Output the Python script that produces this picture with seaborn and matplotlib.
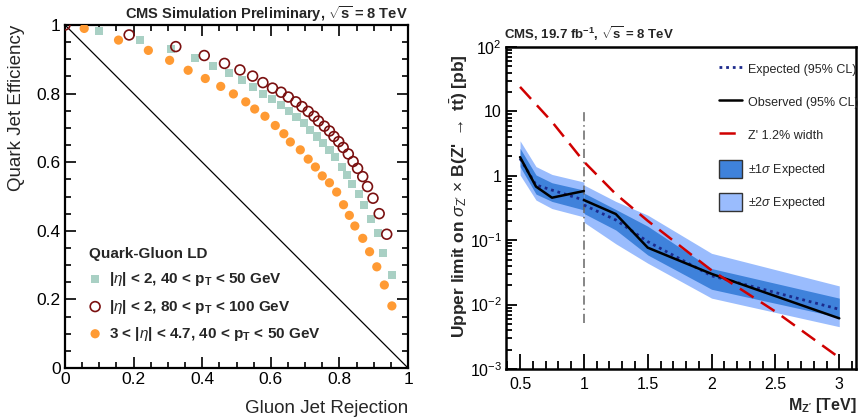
import numpy as np
import pandas as pd
import matplotlib
matplotlib.use("Agg")
import matplotlib.pyplot as plt
import seaborn as sns
from matplotlib.ticker import MultipleLocator, FixedLocator, FixedFormatter, LogLocator, NullFormatter
from matplotlib.patches import Patch
from matplotlib.lines import Line2D

# ---------------- Quark-gluon likelihood discriminant: ROC points ----------------
rej_central_low = [0.10, 0.219, 0.31, 0.379, 0.432, 0.477, 0.516, 0.547, 0.578, 0.604,
                   0.629, 0.654, 0.675, 0.696, 0.715, 0.734, 0.752, 0.771, 0.787, 0.807,
                   0.821, 0.837, 0.857, 0.873, 0.891, 0.912, 0.928, 0.953]
eff_central_low = [0.983, 0.956, 0.929, 0.903, 0.881, 0.861, 0.84, 0.82, 0.80, 0.783,
                   0.767, 0.748, 0.731, 0.713, 0.695, 0.675, 0.656, 0.635, 0.614, 0.587,
                   0.563, 0.537, 0.508, 0.474, 0.435, 0.393, 0.336, 0.27]

rej_central_high = [0.0, 0.187, 0.323, 0.406, 0.465, 0.510, 0.547, 0.577, 0.605, 0.630,
                    0.651, 0.673, 0.691, 0.709, 0.726, 0.739, 0.756, 0.771, 0.784, 0.798,
                    0.811, 0.826, 0.840, 0.853, 0.868, 0.882, 0.898, 0.916, 0.938]
eff_central_high = [1.0, 0.971, 0.937, 0.911, 0.888, 0.869, 0.851, 0.832, 0.816, 0.804,
                    0.79, 0.776, 0.762, 0.748, 0.734, 0.72, 0.705, 0.691, 0.675, 0.66,
                    0.643, 0.624, 0.602, 0.582, 0.558, 0.529, 0.495, 0.45, 0.39]

rej_forward = [0.056, 0.156, 0.243, 0.305, 0.359, 0.409, 0.454, 0.491, 0.527, 0.553,
               0.583, 0.613, 0.638, 0.657, 0.686, 0.709, 0.730, 0.750, 0.771, 0.792,
               0.812, 0.829, 0.845, 0.868, 0.888, 0.909, 0.931, 0.953]
eff_forward = [0.99, 0.956, 0.926, 0.897, 0.868, 0.844, 0.821, 0.799, 0.776, 0.755,
               0.734, 0.707, 0.683, 0.659, 0.636, 0.609, 0.586, 0.56, 0.54, 0.513,
               0.476, 0.445, 0.414, 0.378, 0.339, 0.295, 0.242, 0.181]

roc_labels = [r"|$\eta$| < 2, 40 < p$_{\mathbf{T}}$ < 50 GeV",
              r"|$\eta$| < 2, 80 < p$_{\mathbf{T}}$ < 100 GeV",
              r"3 < |$\eta$| < 4.7, 40 < p$_{\mathbf{T}}$ < 50 GeV"]

# ---------------- Z' -> ttbar cross-section limits ----------------
mass_low = [0.5, 0.625, 0.75, 1.0]
obs_low = [1.95, 0.68, 0.457, 0.58]
exp_low = [1.85, 0.72, 0.60, 0.42]
exp1_lo_low = [1.39, 0.52, 0.40, 0.295]
exp1_hi_low = [2.67, 1.03, 0.78, 0.60]
exp2_lo_low = [1.03, 0.42, 0.31, 0.23]
exp2_hi_low = [3.5, 1.39, 1.05, 0.80]

mass_high = [1.0, 1.25, 1.5, 2.0, 3.0]
obs_high = [0.42, 0.255, 0.0766, 0.030, 0.00612]
exp_high = [0.352, 0.206, 0.095, 0.028, 0.00845]
exp1_lo_high = [0.26, 0.144, 0.059, 0.0173, 0.00635]
exp1_hi_high = [0.54, 0.30, 0.165, 0.0363, 0.0126]
exp2_lo_high = [0.19, 0.088, 0.044, 0.0126, 0.00454]
exp2_hi_high = [0.72, 0.40, 0.245, 0.0625, 0.0195]

zp_mass = [0.5, 0.75, 1.0, 1.25, 1.5, 2.0, 2.5, 3.0]
zp_xsec = [24.0, 6.9, 1.66, 0.52, 0.20, 0.034, 0.0078, 0.0015]

split_mass = [1.0, 1.0]
split_range = [0.0052, 10.0]

# ---------------- style ----------------
sns.set_theme(style="ticks")
plt.rcParams["font.family"] = ["Liberation Sans", "DejaVu Sans"]
plt.rcParams["mathtext.fontset"] = "custom"
plt.rcParams["mathtext.rm"] = "Liberation Sans"
plt.rcParams["mathtext.it"] = "Liberation Sans:italic"
plt.rcParams["mathtext.bf"] = "Liberation Sans:bold"
plt.rcParams["mathtext.sf"] = "Liberation Sans"

W, H = 859, 418
fig = plt.figure(figsize=(W / 100, H / 100), dpi=100)


def box(l, t, r, b):
    return [l / W, 1 - b / H, (r - l) / W, (b - t) / H]


# ================= left panel =================
ax1 = fig.add_axes(box(65, 25, 408, 368))

green, maroon, orange = "#a9d0c4", "#7a1010", "#ff9a33"

sns.lineplot(x=[0, 1], y=[1, 0], color="black", lw=0.9, ax=ax1)
sns.scatterplot(x=rej_central_low, y=eff_central_low, marker="s", s=34,
                color=green, edgecolor="none", ax=ax1, label=roc_labels[0], zorder=3)
sns.scatterplot(x=rej_central_high, y=eff_central_high, marker="o", s=50,
                facecolor="none", edgecolor=maroon, linewidth=1.2, ax=ax1,
                label=roc_labels[1], zorder=4)
sns.scatterplot(x=rej_forward, y=eff_forward, marker="o", s=44,
                color=orange, edgecolor="none", ax=ax1, label=roc_labels[2], zorder=3)

ax1.set_xlim(0, 1)
ax1.set_ylim(0, 1)
ax1.xaxis.set_major_locator(MultipleLocator(0.2))
ax1.xaxis.set_minor_locator(MultipleLocator(0.05))
ax1.yaxis.set_major_locator(MultipleLocator(0.2))
ax1.yaxis.set_minor_locator(MultipleLocator(0.05))
fmt01 = matplotlib.ticker.FuncFormatter(lambda v, p: f"{v:g}")
ax1.xaxis.set_major_formatter(fmt01)
ax1.yaxis.set_major_formatter(fmt01)
ax1.tick_params(which="both", direction="in", top=True, right=True, labelsize=12.5,
                width=1.2, colors="black")
ax1.tick_params(which="major", length=8, pad=3)
ax1.tick_params(which="minor", length=4.5)
for sp in ax1.spines.values():
    sp.set_linewidth(1.6)
    sp.set_color("black")

ax1.set_xlabel("Gluon Jet Rejection", fontsize=13.5, loc="right", labelpad=9)
ax1.set_ylabel("Quark Jet Efficiency", fontsize=13.5, loc="top")
ax1.yaxis.set_label_coords(-0.118, 1.0)
ax1.set_title(r"CMS Simulation Preliminary, $\sqrt{\mathbf{s}}$ = 8 TeV",
              fontsize=10.5, fontweight="bold", loc="right", pad=4)

leg1 = ax1.legend(title="Quark-Gluon LD", loc="upper left",
                  bbox_to_anchor=(0.07, 0.352), frameon=False, fontsize=11,
                  title_fontproperties={"weight": "bold", "size": 11},
                  prop={"weight": "bold", "size": 11}, alignment="left",
                  handlelength=0.8, handletextpad=0.5, labelspacing=0.6,
                  borderpad=0, borderaxespad=0)

# ================= right panel =================
ax2 = fig.add_axes(box(506, 47, 856, 369))
dark, light = "#3f82db", "#9abcfd"

ax2.fill_between(mass_low, exp2_lo_low, exp2_hi_low, color=light, lw=0, zorder=1)
ax2.fill_between(mass_high, exp2_lo_high, exp2_hi_high, color=light, lw=0, zorder=1)
ax2.fill_between(mass_low, exp1_lo_low, exp1_hi_low, color=dark, lw=0, zorder=2)
ax2.fill_between(mass_high, exp1_lo_high, exp1_hi_high, color=dark, lw=0, zorder=2)

exp_kw = dict(color="#1c2a8c", lw=2.0, linestyle=(0, (1, 1.4)))
obs_kw = dict(color="black", lw=1.8)
zp_kw = dict(color="#d00000", lw=1.8, linestyle=(0, (6.5, 3.5)))
sns.lineplot(x=mass_low, y=exp_low, ax=ax2, zorder=4, **exp_kw)
sns.lineplot(x=mass_high, y=exp_high, ax=ax2, zorder=4, **exp_kw)
sns.lineplot(x=mass_low, y=obs_low, ax=ax2, zorder=5, **obs_kw)
sns.lineplot(x=mass_high, y=obs_high, ax=ax2, zorder=5, **obs_kw)
sns.lineplot(x=zp_mass, y=zp_xsec, ax=ax2, zorder=6, **zp_kw)
sns.lineplot(x=split_mass, y=split_range, ax=ax2, estimator=None, sort=False,
             color="#666666", lw=1.1, linestyle=(0, (6, 2.5, 1, 2.5)), zorder=3)

ax2.set_yscale("log")
ax2.set_xlim(0.39, 3.131)
ax2.set_ylim(1e-3, 1e2)
ax2.xaxis.set_major_locator(MultipleLocator(0.5))
ax2.xaxis.set_minor_locator(MultipleLocator(0.1))
ax2.xaxis.set_major_formatter(fmt01)
ax2.yaxis.set_major_locator(FixedLocator([1e-3, 1e-2, 1e-1, 1, 10, 100]))
ax2.yaxis.set_major_formatter(FixedFormatter([r"10$^{-3}$", r"10$^{-2}$", r"10$^{-1}$",
                                              "1", "10", r"10$^{2}$"]))
ax2.yaxis.set_minor_locator(LogLocator(base=10, subs=np.arange(2, 10)))
ax2.yaxis.set_minor_formatter(NullFormatter())
ax2.tick_params(which="both", direction="in", top=False, right=False, width=1.3,
                colors="black", labelsize=11.5)
ax2.tick_params(axis="x", which="major", length=11, pad=6)
ax2.tick_params(axis="x", which="minor", length=6)
ax2.tick_params(axis="y", which="major", length=8, pad=3)
ax2.tick_params(axis="y", which="minor", length=4.5)
for sp in ax2.spines.values():
    sp.set_linewidth(1.8)
    sp.set_color("black")

ax2.set_xlabel(r"M$_{\mathbf{Z'}}$ [TeV]", fontsize=11.5, fontweight="bold", ha="right")
ax2.xaxis.set_label_coords(1.003, -0.085)
ax2.set_ylabel(r"Upper limit on $\sigma_{\mathrm{Z'}}$ $\times$ B(Z' $\rightarrow$ t$\bar{\mathbf{t}}$) [pb]",
               fontsize=12.5, fontweight="bold")
ax2.yaxis.set_label_coords(-0.104, 0.537)
ax2.set_title(r"CMS, 19.7 fb$^{\mathbf{-1}}$, $\sqrt{\mathbf{s}}$ = 8 TeV", fontsize=9.5,
              fontweight="bold", loc="left", pad=6, x=-0.005)

leg_size = 9.0
handles = [Line2D([], [], **exp_kw),
           Line2D([], [], **obs_kw),
           Line2D([], [], **zp_kw),
           Patch(facecolor=dark, edgecolor="#333333", lw=1.0),
           Patch(facecolor=light, edgecolor="#333333", lw=1.0)]
labels = ["Expected (95% CL)", "Observed (95% CL)", "Z' 1.2% width",
          r"$\pm$1$\sigma$ Expected", r"$\pm$2$\sigma$ Expected"]
leg2 = fig.legend(handles, labels, loc="upper left",
                  bbox_to_anchor=(719 / W, 1 - 60 / H), frameon=False,
                  prop={"size": leg_size},
                  handlelength=16.5 / leg_size, handleheight=16.5 / leg_size,
                  handletextpad=0.45, labelspacing=11.0 / leg_size,
                  borderpad=0, borderaxespad=0)

fig.savefig("out.png", dpi=100)
